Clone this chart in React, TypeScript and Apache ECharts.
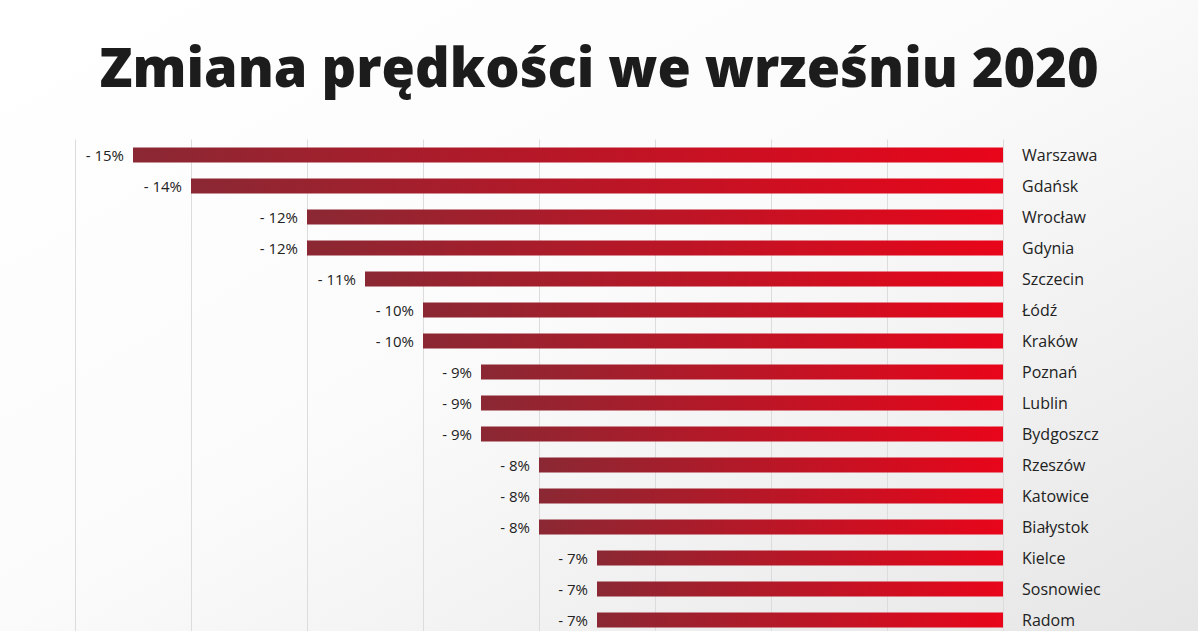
import React, { useEffect, useRef } from "react";
import * as echarts from "echarts";

const titleText = "Zmiana prędkości we wrześniu 2020";
const cities = [
  "Warszawa", "Gdańsk", "Wrocław", "Gdynia", "Szczecin", "Łódź", "Kraków", "Poznań",
  "Lublin", "Bydgoszcz", "Rzeszów", "Katowice", "Białystok", "Kielce", "Sosnowiec", "Radom",
];
const changes = [-15, -14, -12, -12, -11, -10, -10, -9, -9, -9, -8, -8, -8, -7, -7, -7];
const axisMin = -16;
const axisMax = 0;
const axisInterval = 2;

const FONT = "'Open Sans', 'Noto Sans', sans-serif";

export default function App() {
  const ref = useRef<HTMLDivElement>(null);
  useEffect(() => {
    if (!ref.current) return;
    const chart = echarts.init(ref.current, null, { renderer: "svg" });
    chart.setOption({
      animation: false,
      backgroundColor: new echarts.graphic.LinearGradient(0, 0, 1, 1, [
        { offset: 0, color: "#ffffff" },
        { offset: 0.45, color: "#fbfbfb" },
        { offset: 1, color: "#e4e4e4" },
      ]),
      title: {
        text: titleText,
        left: "center",
        top: 34,
        textStyle: { fontFamily: FONT, fontWeight: 800, fontSize: 54, color: "#1c1c1c" },
      },
      grid: { left: 75, right: 195, top: 139.5, height: 496, containLabel: false },
      xAxis: {
        type: "value",
        min: axisMin,
        max: axisMax,
        interval: axisInterval,
        axisLabel: { show: false },
        axisLine: { show: false },
        axisTick: { show: false },
        splitLine: { show: true, lineStyle: { color: "#dcdcdc", width: 1 } },
      },
      yAxis: {
        type: "category",
        data: cities,
        inverse: true,
        position: "right",
        axisLine: { show: false },
        axisTick: { show: false },
        axisLabel: {
          margin: 19,
          fontFamily: FONT,
          fontSize: 16,
          color: "#222222",
        },
      },
      series: [
        {
          type: "bar",
          data: changes,
          barWidth: 15,
          itemStyle: {
            color: new echarts.graphic.LinearGradient(0, 0, 1, 0, [
              { offset: 0, color: "#8a2833" },
              { offset: 1, color: "#e8051a" },
            ]),
          },
          label: {
            show: true,
            position: "left",
            distance: 9,
            fontFamily: FONT,
            fontSize: 15,
            color: "#222222",
            formatter: (p: any) => "- " + Math.abs(p.value) + "%",
          },
        },
      ],
    });
    return () => chart.dispose();
  }, []);
  return (
    <div style={{ position: "fixed", left: 0, top: 0, width: 1198, height: 631, overflow: "hidden" }}>
      <div ref={ref} style={{ width: 1198, height: 680 }} />
    </div>
  );
}
